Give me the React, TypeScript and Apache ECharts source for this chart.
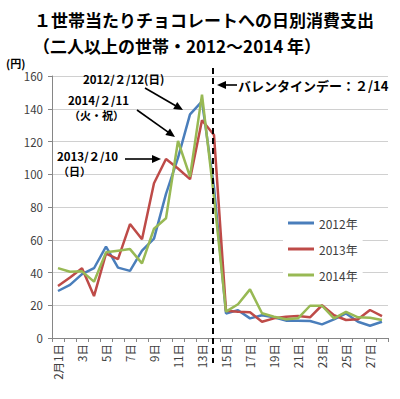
import React, { useEffect, useRef } from "react";
import * as echarts from "echarts";

const days: string[] = [
  "2月1日", "2日", "3日", "4日", "5日", "6日", "7日", "8日", "9日", "10日",
  "11日", "12日", "13日", "14日", "15日", "16日", "17日", "18日", "19日", "20日",
  "21日", "22日", "23日", "24日", "25日", "26日", "27日", "28日",
];

const s2012: number[] = [
  28.7, 32.4, 39, 42.6, 55.8, 43, 41, 53.3, 60.7, 88,
  110, 136.6, 144.5, 92, 15, 17, 12, 13.9, 12.6, 10.6,
  10.6, 10.4, 8.3, 11.4, 15, 9.9, 7.5, 9.9,
];
const s2013: number[] = [
  31.8, 37, 42.6, 25.6, 51.5, 48.2, 69.6, 60.3, 94.5, 109.3,
  103.5, 97, 133, 124, 16.7, 16.1, 15.7, 9.9, 12, 13,
  13.4, 12.6, 20, 13.9, 11, 11.4, 17.1, 13.4,
];
const s2014: number[] = [
  42.7, 40.5, 40.7, 34.4, 52.3, 53.3, 54.3, 45.6, 66.7, 73.1,
  120.3, 98.5, 148.6, 86, 16.1, 20.6, 29.7, 15.1, 13, 11.4,
  12, 19.7, 19.7, 12, 16, 12.6, 12.4, 11,
];

const seriesNames = ["2012年", "2013年", "2014年"];
const colors = ["#4A7EBB", "#BE4B48", "#98B954"];
const yTicks = { min: 0, max: 160, interval: 20 };

const FONT = "'Noto Sans CJK JP', 'Noto Sans', sans-serif";

function arrow(x1: number, y1: number, x2: number, y2: number, head = 9, half = 4) {
  const dx = x2 - x1;
  const dy = y2 - y1;
  const len = Math.sqrt(dx * dx + dy * dy);
  const ux = dx / len;
  const uy = dy / len;
  const bx = x2 - ux * head;
  const by = y2 - uy * head;
  const nx = -uy * half;
  const ny = ux * half;
  return [
    {
      type: "line",
      shape: { x1, y1, x2: bx + ux * 1, y2: by + uy * 1 },
      style: { stroke: "#000", lineWidth: 1.6 },
      silent: true,
    },
    {
      type: "polygon",
      shape: { points: [[x2, y2], [bx + nx, by + ny], [bx - nx, by - ny]] },
      style: { fill: "#000" },
      silent: true,
    },
  ];
}

function label(text: string, x: number, y: number, size = 11.5) {
  return {
    type: "text",
    x,
    y,
    style: {
      text,
      fill: "#000",
      font: `bold ${size}px ${FONT}`,
      textVerticalAlign: "middle",
      textAlign: "left",
    },
    silent: true,
  };
}

export default function App() {
  const ref = useRef<HTMLDivElement>(null);
  useEffect(() => {
    if (!ref.current) return;
    const chart = echarts.init(ref.current, undefined, { renderer: "svg" });
    const allSeries = [s2012, s2013, s2014];
    chart.setOption({
      animation: false,
      backgroundColor: "#fff",
      textStyle: { fontFamily: FONT },
      grid: { left: 52, right: 12, top: 76, bottom: 61, containLabel: false },
      legend: {
        orient: "vertical",
        left: 283,
        top: 210,
        padding: [5, 5, 5, 5],
        backgroundColor: "#fff",
        icon: "rect",
        itemWidth: 26,
        itemHeight: 3,
        itemGap: 10,
        textStyle: { color: "#404040", fontSize: 12, fontFamily: FONT, lineHeight: 16 },
        data: seriesNames,
      },
      xAxis: {
        type: "category",
        data: days,
        boundaryGap: true,
        axisLine: { lineStyle: { color: "#868686", width: 1 } },
        axisTick: { show: true, interval: 0, length: 4, lineStyle: { color: "#868686" } },
        axisLabel: {
          interval: 1,
          rotate: 90,
          color: "#404040",
          fontSize: 11.5,
          margin: 6,
          fontFamily: FONT,
        },
        splitLine: { show: false },
      },
      yAxis: {
        type: "value",
        min: yTicks.min,
        max: yTicks.max,
        interval: yTicks.interval,
        axisLine: { show: true, lineStyle: { color: "#868686", width: 1 } },
        axisTick: { show: true, length: 4, lineStyle: { color: "#868686" } },
        axisLabel: { color: "#404040", fontSize: 11.5, margin: 9, fontFamily: FONT },
        splitLine: { show: true, lineStyle: { color: "#D0D0D0", width: 1 } },
      },
      series: allSeries.map((d, i) => ({
        name: seriesNames[i],
        type: "line",
        data: d,
        symbol: "none",
        color: colors[i],
        lineStyle: { color: colors[i], width: 2.5 },
        z: 2,
      })),
    });

    const x14 = chart.convertToPixel({ xAxisIndex: 0 }, "14日") as number;

    const graphics: any[] = [
      label("１世帯当たりチョコレートへの日別消費支出", 34, 19, 17),
      label("（二人以上の世帯・2012～2014 年）", 33, 45, 17),
      {
        type: "text",
        x: 6,
        y: 63,
        style: { text: "(円)", fill: "#000", font: `bold 11px ${FONT}`, textVerticalAlign: "middle" },
        silent: true,
      },
      {
        type: "line",
        shape: { x1: x14 - 1, y1: 68, x2: x14 - 1, y2: 363 },
        style: { stroke: "#000", lineWidth: 2, lineDash: [6, 4] },
        silent: true,
        z: 10,
      },
      ...arrow(237, 85, x14 + 3, 85),
      label("バレンタインデー：２/14", 238, 85, 13),
      label("2012/２/12(日)", 83, 79),
      ...arrow(145, 88, 183, 110),
      label("2014/２/11", 68, 100, 11.5),
      label("（火・祝）", 69, 114.5, 11),
      ...arrow(137, 110, 175, 137),
      label("2013/２/10", 57, 156, 11.5),
      label("（日）", 58, 170.5, 11),
      ...arrow(125, 159, 161, 159),
    ];
    chart.setOption({ graphic: graphics });

    return () => chart.dispose();
  }, []);
  return (
    <div
      ref={ref}
      style={{ position: "fixed", left: 0, top: 0, width: 400, height: 399, background: "#fff" }}
    />
  );
}
